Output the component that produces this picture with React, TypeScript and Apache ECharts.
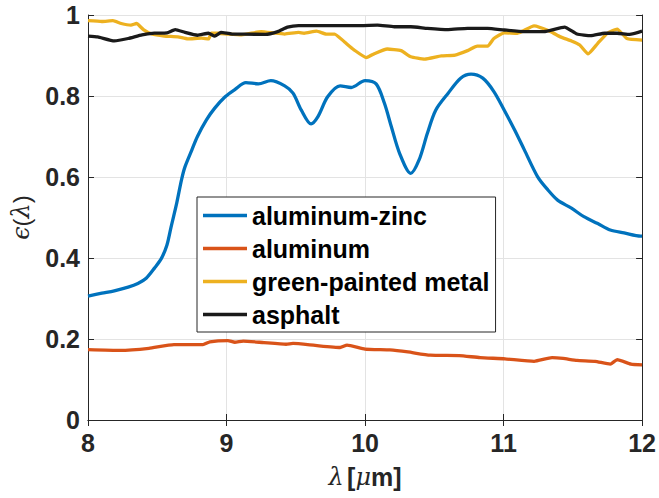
import React, { useEffect, useRef } from "react";
import * as echarts from "echarts";

const seriesNames = ["aluminum-zinc", "aluminum", "green-painted metal", "asphalt"];
const seriesColors = ["#0072BD", "#D95319", "#EDB120", "#1a1a1a"];

const aluminumZinc: [number, number][] = [
  [8.0, 0.306], [8.1, 0.313], [8.19, 0.319], [8.29, 0.328], [8.36, 0.337], [8.42, 0.35],
  [8.48, 0.375], [8.53, 0.399], [8.57, 0.432], [8.6, 0.477], [8.64, 0.535], [8.675, 0.593],
  [8.7, 0.625], [8.75, 0.667], [8.79, 0.7], [8.855, 0.741], [8.915, 0.77], [8.99, 0.798],
  [9.06, 0.816], [9.14, 0.833], [9.23, 0.83], [9.32, 0.838], [9.42, 0.825], [9.48, 0.807],
  [9.54, 0.765], [9.61, 0.731], [9.66, 0.749], [9.73, 0.798], [9.82, 0.825], [9.9, 0.821],
  [10.0, 0.838], [10.08, 0.83], [10.14, 0.782], [10.19, 0.724], [10.25, 0.658], [10.33, 0.609],
  [10.39, 0.642], [10.45, 0.708], [10.51, 0.765], [10.6, 0.807], [10.69, 0.844], [10.765, 0.854],
  [10.85, 0.844], [10.93, 0.811], [11.005, 0.765], [11.08, 0.716], [11.15, 0.667], [11.245, 0.601],
  [11.32, 0.568], [11.39, 0.543], [11.49, 0.523], [11.58, 0.502], [11.68, 0.485], [11.77, 0.469],
  [11.87, 0.462], [11.99, 0.454], [12.0, 0.454],
];

const aluminum: [number, number][] = [
  [8.0, 0.174], [8.23, 0.172], [8.44, 0.177], [8.62, 0.186], [8.83, 0.186], [8.88, 0.193],
  [9.01, 0.196], [9.06, 0.192], [9.12, 0.195], [9.27, 0.191], [9.43, 0.187], [9.48, 0.189],
  [9.64, 0.184], [9.82, 0.179], [9.87, 0.185], [10.0, 0.175], [10.18, 0.173], [10.31, 0.168],
  [10.47, 0.16], [10.68, 0.159], [10.83, 0.154], [11.01, 0.151], [11.22, 0.145], [11.35, 0.154],
  [11.43, 0.152], [11.53, 0.147], [11.66, 0.145], [11.77, 0.138], [11.82, 0.149], [11.92, 0.138],
  [12.0, 0.136],
];

const greenPainted: [number, number][] = [
  [8.0, 0.986], [8.1, 0.984], [8.18, 0.986], [8.24, 0.979], [8.31, 0.975], [8.35, 0.979],
  [8.4, 0.964], [8.46, 0.953], [8.55, 0.948], [8.65, 0.946], [8.72, 0.941], [8.82, 0.943],
  [8.87, 0.941], [8.89, 0.955], [8.94, 0.955], [9.01, 0.953], [9.11, 0.951], [9.25, 0.959],
  [9.35, 0.955], [9.42, 0.953], [9.52, 0.957], [9.56, 0.955], [9.65, 0.96], [9.72, 0.953],
  [9.78, 0.953], [9.85, 0.934], [9.92, 0.914], [10.01, 0.895], [10.07, 0.905], [10.16, 0.916],
  [10.26, 0.912], [10.33, 0.897], [10.43, 0.891], [10.55, 0.899], [10.65, 0.901], [10.74, 0.912],
  [10.81, 0.923], [10.885, 0.923], [10.93, 0.942], [11.005, 0.956], [11.1, 0.955], [11.22, 0.973],
  [11.34, 0.959], [11.41, 0.946], [11.49, 0.936], [11.55, 0.926], [11.61, 0.904], [11.68, 0.93],
  [11.75, 0.955], [11.82, 0.965], [11.89, 0.942], [12.0, 0.938],
];

const asphalt: [number, number][] = [
  [8.0, 0.948], [8.07, 0.946], [8.19, 0.936], [8.29, 0.942], [8.39, 0.951], [8.48, 0.955],
  [8.57, 0.956], [8.63, 0.964], [8.7, 0.957], [8.79, 0.95], [8.87, 0.955], [8.915, 0.948],
  [8.96, 0.957], [9.04, 0.953], [9.13, 0.953], [9.28, 0.952], [9.37, 0.959], [9.44, 0.97],
  [9.52, 0.974], [9.73, 0.974], [9.97, 0.974], [10.09, 0.975], [10.21, 0.971], [10.33, 0.971],
  [10.45, 0.967], [10.6, 0.964], [10.74, 0.967], [10.885, 0.967], [11.005, 0.963], [11.15, 0.959],
  [11.29, 0.959], [11.44, 0.97], [11.53, 0.953], [11.63, 0.949], [11.73, 0.955], [11.82, 0.955],
  [11.91, 0.952], [12.0, 0.96],
];

const xTicks = { min: 8, max: 12, interval: 1 };
const yTicks = { min: 0, max: 1, interval: 0.2 };

const FONT = "Liberation Sans";
const AXIS_COLOR = "#262626";
// legend icon: a thin horizontal bar centred in a 44x24 box (tiny corner specks fix the box)
const LINE_ICON =
  "path://M0,0L0.01,0L0,0.01Z M0,10.3H44V13.7H0Z M44,24L43.99,24L44,23.99Z";

export default function App() {
  const ref = useRef<HTMLDivElement>(null);
  useEffect(() => {
    if (!ref.current) return;
    const chart = echarts.init(ref.current, null, { renderer: "svg" });
    const datas = [aluminumZinc, aluminum, greenPainted, asphalt];
    const tickLabel = {
      color: AXIS_COLOR,
      fontFamily: FONT,
      fontWeight: "bold" as const,
      fontSize: 25,
    };
    const common = {
      axisLine: { show: true, lineStyle: { color: AXIS_COLOR, width: 1 } },
      axisTick: { show: true, inside: true, length: 6, lineStyle: { color: AXIS_COLOR } },
      splitLine: { show: true, lineStyle: { color: "#e3e3e3", width: 1 } },
    };
    chart.setOption({
      animation: false,
      backgroundColor: "#ffffff",
      grid: { left: 88, top: 15, width: 555, height: 405, containLabel: false },
      legend: {
        left: 197,
        top: 197,
        orient: "vertical",
        data: seriesNames.map((name) => ({ name, icon: LINE_ICON })),
        itemWidth: 44,
        itemHeight: 24,
        itemGap: 8,
        padding: [6, 6, 5, 6],
        borderColor: AXIS_COLOR,
        borderWidth: 1,
        backgroundColor: "#ffffff",
        textStyle: { fontFamily: FONT, fontWeight: "bold", fontSize: 25, color: "#000", lineHeight: 24 },
      },
      xAxis: [
        {
          type: "value",
          ...xTicks,
          position: "bottom",
          ...common,
          axisLabel: { ...tickLabel, margin: 10 },
          name: "{a|λ} {b|[}{c|μ}{b|m]}",
          nameLocation: "middle",
          nameGap: 44,
          nameTextStyle: {
            rich: {
              a: { fontFamily: "DejaVu Serif", fontStyle: "italic", fontSize: 24, color: AXIS_COLOR },
              b: { fontFamily: FONT, fontWeight: "bold", fontSize: 25, color: AXIS_COLOR },
              c: { fontFamily: "DejaVu Serif", fontStyle: "italic", fontSize: 24, color: AXIS_COLOR },
            },
          },
        },
        {
          type: "value",
          ...xTicks,
          position: "top",
          axisLine: common.axisLine,
          axisTick: common.axisTick,
          splitLine: { show: false },
          axisLabel: { show: false },
        },
      ],
      yAxis: [
        {
          type: "value",
          ...yTicks,
          position: "left",
          ...common,
          axisLabel: { ...tickLabel, margin: 8 },
          name: "{a|ϵ}{b|(}{a|λ}{b|)}",
          nameLocation: "middle",
          nameGap: 55,
          nameRotate: 90,
          nameTextStyle: {
            rich: {
              a: { fontFamily: "DejaVu Serif", fontStyle: "italic", fontSize: 24, color: AXIS_COLOR },
              b: { fontFamily: FONT, fontSize: 24, color: AXIS_COLOR },
            },
          },
        },
        {
          type: "value",
          ...yTicks,
          position: "right",
          axisLine: common.axisLine,
          axisTick: common.axisTick,
          splitLine: { show: false },
          axisLabel: { show: false },
        },
      ],
      series: seriesNames.map((name, i) => ({
        name,
        type: "line",
        data: datas[i],
        xAxisIndex: 0,
        yAxisIndex: 0,
        symbol: "none",
        smooth: i === 0 ? 0.3 : 0.15,
        lineStyle: { color: seriesColors[i], width: 3.3 },
        itemStyle: { color: seriesColors[i] },
        z: 2 + i,
      })),
    });
    return () => chart.dispose();
  }, []);
  return (
    <div
      ref={ref}
      style={{ position: "fixed", left: 0, top: 0, width: 659, height: 498 }}
    />
  );
}
